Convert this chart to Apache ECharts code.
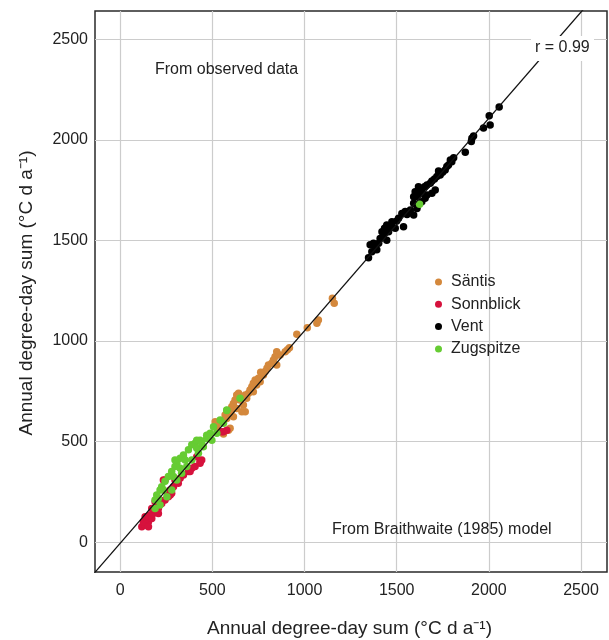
<!DOCTYPE html>
<html>
<head>
<meta charset="utf-8">
<script src="https://cdn.jsdelivr.net/npm/echarts@6/dist/echarts.min.js"></script>
<style>
  html, body { margin: 0; padding: 0; background: #fff; }
  #chart { width: 609px; height: 640px; }
</style>
</head>
<body>
<div id="chart"></div>
<script>
// Tick positions shared by both axes
const tickValues = [0, 500, 1000, 1500, 2000, 2500];
const stationNames = ['Säntis', 'Sonnblick', 'Vent', 'Zugspitze'];

// [modelled sum, observed sum] pairs, °C d a⁻¹
const santis = [
  [1151,1212],[1161,1187],[1075,1104],[1067,1088],[1015,1066],[958,1034],[918,967],[907,956],
  [895,947],[868,931],[849,947],[840,922],[831,906],[849,881],[822,889],[804,881],[796,865],
  [786,848],[777,831],[762,845],[750,815],[759,798],[732,806],[722,790],[740,781],[714,773],
  [704,756],[722,748],[696,740],[678,732],[686,715],[660,723],[642,740],[632,732],[650,707],
  [623,707],[614,690],[668,682],[605,673],[596,657],[632,665],[587,640],[678,648],[569,632],
  [578,615],[542,599],[614,623],[524,582],[515,599],[524,591],[587,557],[605,657],[660,648],
  [596,566],[524,566],[560,538]
];
const sonnblick = [
  [117,77],[135,85],[153,102],[125,102],[143,118],[171,118],[161,135],[179,143],[189,160],
  [171,168],[207,168],[198,185],[189,201],[225,193],[216,210],[243,210],[261,226],[253,251],
  [279,243],[243,309],[289,276],[315,293],[325,318],[343,334],[370,351],[388,368],[406,376],
  [433,392],[442,409],[297,309],[207,143],[153,77],[135,127],[271,259],[433,400],[379,351],
  [551,549],[578,557],[560,549],[415,425],[234,309],[271,235]
];
const vent = [
  [2056,2163],[2002,2119],[1971,2058],[2007,2074],[1908,2008],[1917,2019],[1905,1991],[1872,1938],
  [1809,1911],[1799,1891],[1781,1875],[1763,1850],[1749,1839],[1736,1825],[1718,1817],[1705,1805],
  [1691,1795],[1682,1784],[1664,1775],[1651,1767],[1709,1750],[1691,1734],[1636,1750],[1628,1734],
  [1610,1717],[1592,1717],[1664,1726],[1600,1742],[1618,1767],[1727,1845],[1772,1867],[1791,1900],
  [1654,1709],[1636,1692],[1592,1684],[1610,1659],[1574,1651],[1546,1643],[1528,1634],[1556,1629],
  [1592,1626],[1510,1610],[1500,1596],[1537,1568],[1492,1560],[1474,1568],[1446,1576],[1434,1560],
  [1420,1543],[1456,1543],[1428,1526],[1410,1510],[1446,1501],[1402,1486],[1374,1486],[1383,1469],
  [1356,1478],[1392,1453],[1365,1444],[1347,1414],[1474,1593]
];
const zugspitze = [
  [578,655],[542,607],[506,574],[488,541],[469,516],[433,507],[406,492],[388,484],[415,467],
  [370,459],[343,434],[325,417],[307,392],[297,376],[279,351],[261,326],[243,303],[225,276],
  [216,259],[198,235],[189,210],[216,185],[253,226],[279,259],[307,309],[333,343],[361,376],
  [388,409],[424,442],[451,475],[497,507],[524,541],[560,591],[352,409],[325,368],[289,326],
  [234,259],[207,218],[415,507],[442,492],[469,532],[297,409],[189,168],[650,715],[578,657],
  [1624,1679]
];
// Regression line (r = 0.99) endpoints, clipped to the plot frame
const fitLine = [[-150, -163], [2700, 2846]];

const FONT = '"Liberation Sans", Arial, Helvetica, sans-serif';
const COLORS = ['#d4883c', '#d6123d', '#000000', '#66cc33'];

const chart = echarts.init(document.getElementById('chart'), null, { renderer: 'canvas' });

function valueAxis(min, max, extraLabel) {
  return {
    type: 'value',
    min: min,
    max: max,
    axisLine: { show: false },
    axisTick: { show: false },
    splitLine: { show: false },
    axisLabel: Object.assign({
      customValues: tickValues,
      formatter: v => String(v),
      fontSize: 16,
      fontFamily: FONT,
      color: '#222'
    }, extraLabel)
  };
}

function stationSeries(name, data, color) {
  return {
    name: name,
    type: 'scatter',
    data: data,
    symbol: 'circle',
    symbolSize: 7.5,
    itemStyle: { color: color, opacity: 1 },
    z: 3,
    silent: true
  };
}

chart.setOption({
  animation: false,
  backgroundColor: '#fff',
  color: COLORS,
  grid: {
    left: 95, top: 11, right: 2, bottom: 68,
    show: true,
    borderColor: '#2a2a2a',
    borderWidth: 1.5,
    backgroundColor: 'transparent'
  },
  xAxis: valueAxis(-137, 2641, { margin: 11 }),
  yAxis: valueAxis(-148, 2640, { margin: 7 }),
  legend: {
    data: stationNames,
    orient: 'vertical',
    left: 430,
    top: 269,
    icon: 'circle',
    itemWidth: 7,
    itemHeight: 7,
    itemGap: 6.3,
    selectedMode: false,
    z: 6,
    textStyle: { fontSize: 16, fontFamily: FONT, color: '#222', lineHeight: 16, padding: [0, 0, 0, 4] }
  },
  series: [
    {
      // grid lines at the tick positions, kept beneath the points
      type: 'line',
      data: [],
      silent: true,
      z: 1,
      markLine: {
        z: 1,
        silent: true,
        symbol: 'none',
        label: { show: false },
        lineStyle: { color: '#cccccc', width: 1.2, type: 'solid' },
        animation: false,
        data: tickValues.map(v => ({ xAxis: v })).concat(tickValues.map(v => ({ yAxis: v })))
      }
    },
    stationSeries(stationNames[0], santis, COLORS[0]),
    stationSeries(stationNames[1], sonnblick, COLORS[1]),
    stationSeries(stationNames[2], vent, COLORS[2]),
    stationSeries(stationNames[3], zugspitze, COLORS[3]),
    {
      type: 'line',
      data: fitLine,
      symbol: 'none',
      clip: true,
      silent: true,
      z: 4,
      lineStyle: { color: '#111', width: 1.3 }
    }
  ],
  graphic: [
    {
      type: 'text', left: 155, top: 62, z: 10,
      style: { text: 'From observed data', font: '16px ' + FONT, fill: '#222' }
    },
    {
      type: 'text', left: 332, top: 522, z: 10,
      style: { text: 'From Braithwaite (1985) model', font: '16px ' + FONT, fill: '#222' }
    },
    {
      type: 'rect', z: 20, shape: { x: 531, y: 36, width: 63, height: 25 },
      style: { fill: '#ffffff' }
    },
    {
      type: 'text', z: 21, x: 535, y: 40,
      style: { text: 'r = 0.99', font: '16px ' + FONT, fill: '#222' }
    },
    {
      type: 'text', left: 207, top: 619, z: 10,
      style: { text: 'Annual degree-day sum (°C d a⁻¹)', font: '19px ' + FONT, fill: '#222' }
    },
    {
      type: 'text', x: 27, y: 293, rotation: Math.PI / 2, z: 10,
      style: {
        text: 'Annual degree-day sum (°C d a⁻¹)', font: '19px ' + FONT, fill: '#222',
        textAlign: 'center', textVerticalAlign: 'middle'
      }
    }
  ]
});
</script>
</body>
</html>
